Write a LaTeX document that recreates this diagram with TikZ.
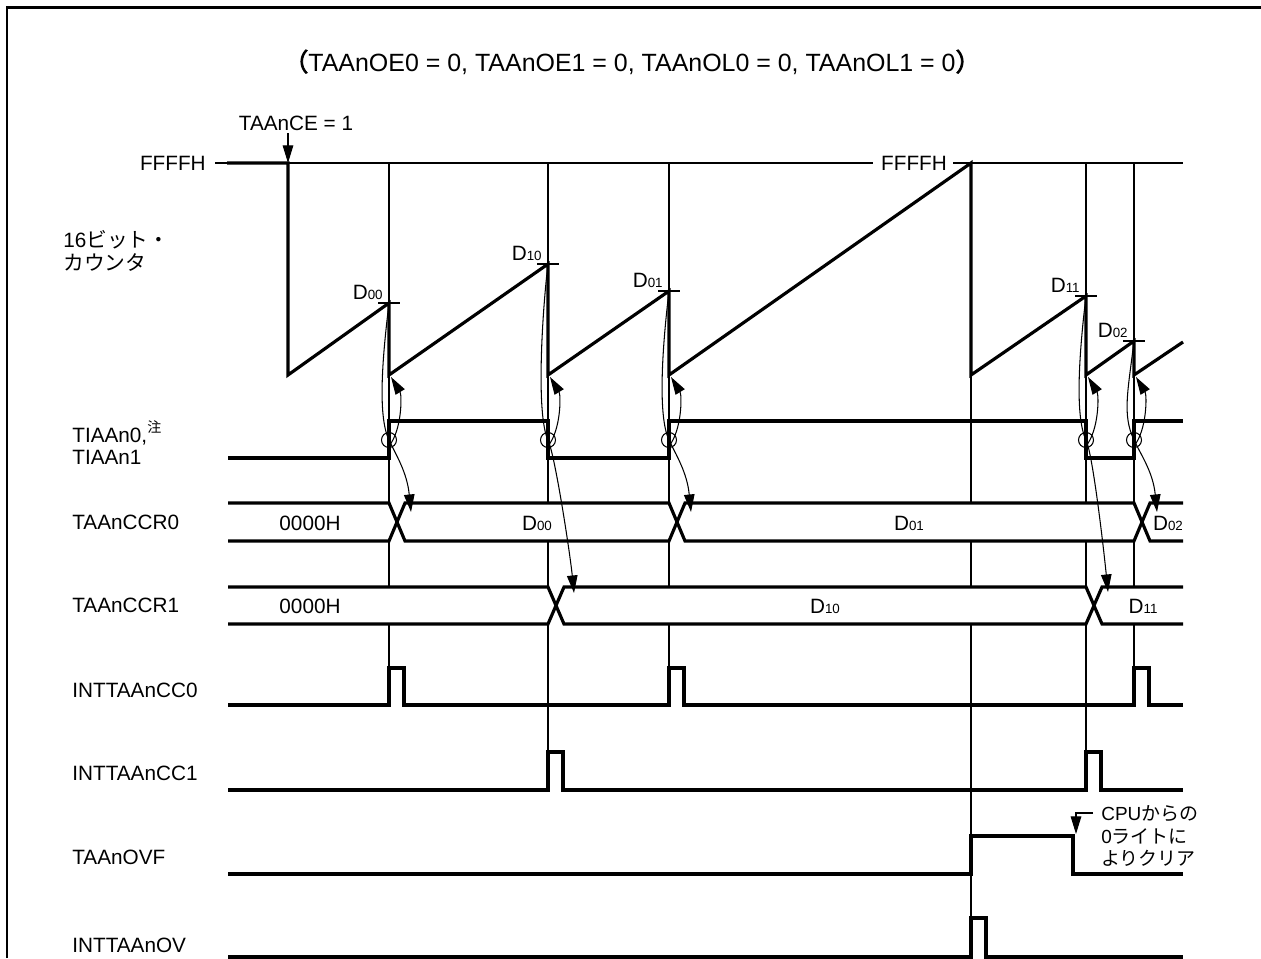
\documentclass[tikz,border=0pt]{standalone}
\usepackage{fontspec}
\setmainfont{Liberation Sans}
\newfontfamily\jp{Noto Sans CJK JP}
\newfontfamily\jpb[FakeBold=3]{Noto Sans CJK JP}
\usetikzlibrary{arrows.meta}
\newcommand\subs[1]{{\fontsize{7.6}{8}\selectfont #1}}
\newcommand\mainfs{\fontsize{11.8}{14}\selectfont}
\tikzset{
  sig/.style={line width=1.8pt, line join=miter},
  fine/.style={line width=0.6pt},
  lbl/.style={anchor=west, inner sep=0},
  pk/.style={anchor=base east, inner sep=0},
  tickmark/.style={line width=0.6pt},
  tipped/.style={line width=0.6pt, -{Triangle[length=10pt,width=6pt]}},
}
\begin{document}
\begin{tikzpicture}[x=0.02cm, y=-0.02cm, every node/.style={font=\mainfs}]
\useasboundingbox (0,0) rectangle (1261,958);
% frame
\draw[line width=1.7pt] (7,958) -- (7,7) -- (1261,7);

% title
\node[inner sep=0, font=\fontsize{14.2}{16}\selectfont] (title) at (632,62) {{\jpb （}TAAnOE0 = 0, TAAnOE1 = 0, TAAnOL0 = 0, TAAnOL1 = 0{\jpb ）}};

% FFFFH reference line
\node[anchor=east, inner sep=0] (ffl) at (206,163) {FFFFH};
\node[inner sep=0] (ffm) at (914,163) {FFFFH};
\draw[fine] (215,163) -- (873,163);
\draw[fine] (953,163) -- (1183,163);

% time markers
\draw[fine] (389,163) -- (389,705);
\draw[fine] (548,163) -- (548,790);
\draw[fine] (669,163) -- (669,705);
\draw[fine] (971,163) -- (971,957);
\draw[fine] (1086,163) -- (1086,790);
\draw[fine] (1134,163) -- (1134,705);

% buses: white interior
\fill[white] (228,503) rectangle (1183,541);
\fill[white] (228,587) rectangle (1183,624);
% TAAnCCR0
\draw[sig] (228,503) -- (389,503) -- (405,541) -- (669,541) -- (685,503) -- (1134,503) -- (1150,541) -- (1183,541);
\draw[sig] (228,541) -- (389,541) -- (405,503) -- (669,503) -- (685,541) -- (1134,541) -- (1150,503) -- (1183,503);
% TAAnCCR1
\draw[sig] (228,587) -- (548,587) -- (564,624) -- (1086,624) -- (1102,587) -- (1183,587);
\draw[sig] (228,624) -- (548,624) -- (564,587) -- (1086,587) -- (1102,624) -- (1183,624);

\node[inner sep=0] (c0a) at (310,523) {0000H};
\node[inner sep=0] (c0b) at (537,523) {D\subs{00}};
\node[inner sep=0] (c0c) at (909,523) {D\subs{01}};
\node[inner sep=0] (c0d) at (1168,523) {D\subs{02}};
\node[inner sep=0] (c1a) at (310,606) {0000H};
\node[inner sep=0] (c1b) at (825,606) {D\subs{10}};
\node[inner sep=0] (c1c) at (1143,606) {D\subs{11}};

% counter
\draw[sig] (227,163) -- (288,163) -- (288,375) -- (389,303) -- (389,375) -- (548,264) -- (548,375)
  -- (669,291) -- (669,375) -- (971,163) -- (971,375) -- (1086,296) -- (1086,375)
  -- (1134,341) -- (1134,375) -- (1183,342);

% peak ticks and labels
\foreach \X/\Y/\t in {389/303/00, 548/264/10, 669/291/01, 1086/296/11, 1134/341/02}{
  \draw[tickmark] (\X-11,\Y) -- (\X+11,\Y);
  \node[pk] (pk\t) at (\X-6,\Y-4) {D\subs{\t}};
}

% TIAAn input
\draw[sig] (228,458) -- (389,458) -- (389,421) -- (548,421) -- (548,458) -- (669,458) -- (669,421)
  -- (1086,421) -- (1086,458) -- (1134,458) -- (1134,421) -- (1183,421);

% INTTAAnCC0
\draw[sig] (228,705) -- (389,705) -- (389,668) -- (404,668) -- (404,705) -- (669,705) -- (669,668)
  -- (684,668) -- (684,705) -- (1134,705) -- (1134,668) -- (1149,668) -- (1149,705) -- (1183,705);
% INTTAAnCC1
\draw[sig] (228,790) -- (548,790) -- (548,752) -- (563,752) -- (563,790) -- (1086,790) -- (1086,752)
  -- (1101,752) -- (1101,790) -- (1183,790);
% TAAnOVF
\draw[sig] (228,874) -- (971,874) -- (971,836) -- (1073,836) -- (1073,874) -- (1183,874);
% INTTAAnOV
\draw[sig] (228,957) -- (971,957) -- (971,918) -- (986,918) -- (986,957) -- (1183,957);

% capture arrows
\foreach \X/\Y/\TX/\TY in {389/303/411/512, 548/264/574/593, 669/291/691/512, 1086/296/1108/592, 1134/341/1157/512}{
  \draw[fine] (\X,440) circle[radius=7.5];
  \coordinate (P) at (\X,\Y);
  \coordinate (C) at (\X,440);
  \coordinate (T) at (\TX,\TY);
  \draw[tipped] (P) .. controls (\X-6,\Y+50) and (\X-12,415) .. (C)
                    .. controls (\X+7,455) and (\TX-4,\TY-40) .. (T);
  \coordinate (B) at (\X+2,377);
  \coordinate (S) at (\X,446);
  \draw[tipped] (S) .. controls (\X+13,430) and (\X+13,395) .. (B);
}

% TAAnCE = 1
\node[inner sep=0] (ce) at (296,123) {TAAnCE = 1};
\coordinate (ceS) at (288,133);
\coordinate (ceT) at (288,163);
\draw[tipped] (ceS) -- (ceT);

% clear annotation
\node[lbl, align=left, font=\fontsize{10.8}{13}\selectfont] (clr) at (1101,836)
  {CPU{\jp からの}\\0{\jp ライトに}\\{\jp よりクリア}};
\coordinate (clrS) at (1093,813);
\coordinate (clrK) at (1076,813);
\coordinate (clrT) at (1076,834);
\draw[tipped] (clrS) -- (clrK) -- (clrT);

% row labels
\node[lbl] (l16a) at (63,240) {16{\jp ビット・}};
\node[lbl] (l16b) at (63,263) {{\jp カウンタ}};
\node[lbl] (lti0) at (72,433) {TIAAn0,\raisebox{0.45em}{\jp\fontsize{8}{8}\selectfont 注}};
\node[lbl] (lti1) at (72,457) {TIAAn1};
\node[lbl] (lcr0) at (72,522) {TAAnCCR0};
\node[lbl] (lcr1) at (72,605) {TAAnCCR1};
\node[lbl] (lcc0) at (72,690) {INTTAAnCC0};
\node[lbl] (lcc1) at (72,773) {INTTAAnCC1};
\node[lbl] (lovf) at (72,857) {TAAnOVF};
\node[lbl] (lov) at (72,945) {INTTAAnOV};
\end{tikzpicture}
\end{document}
